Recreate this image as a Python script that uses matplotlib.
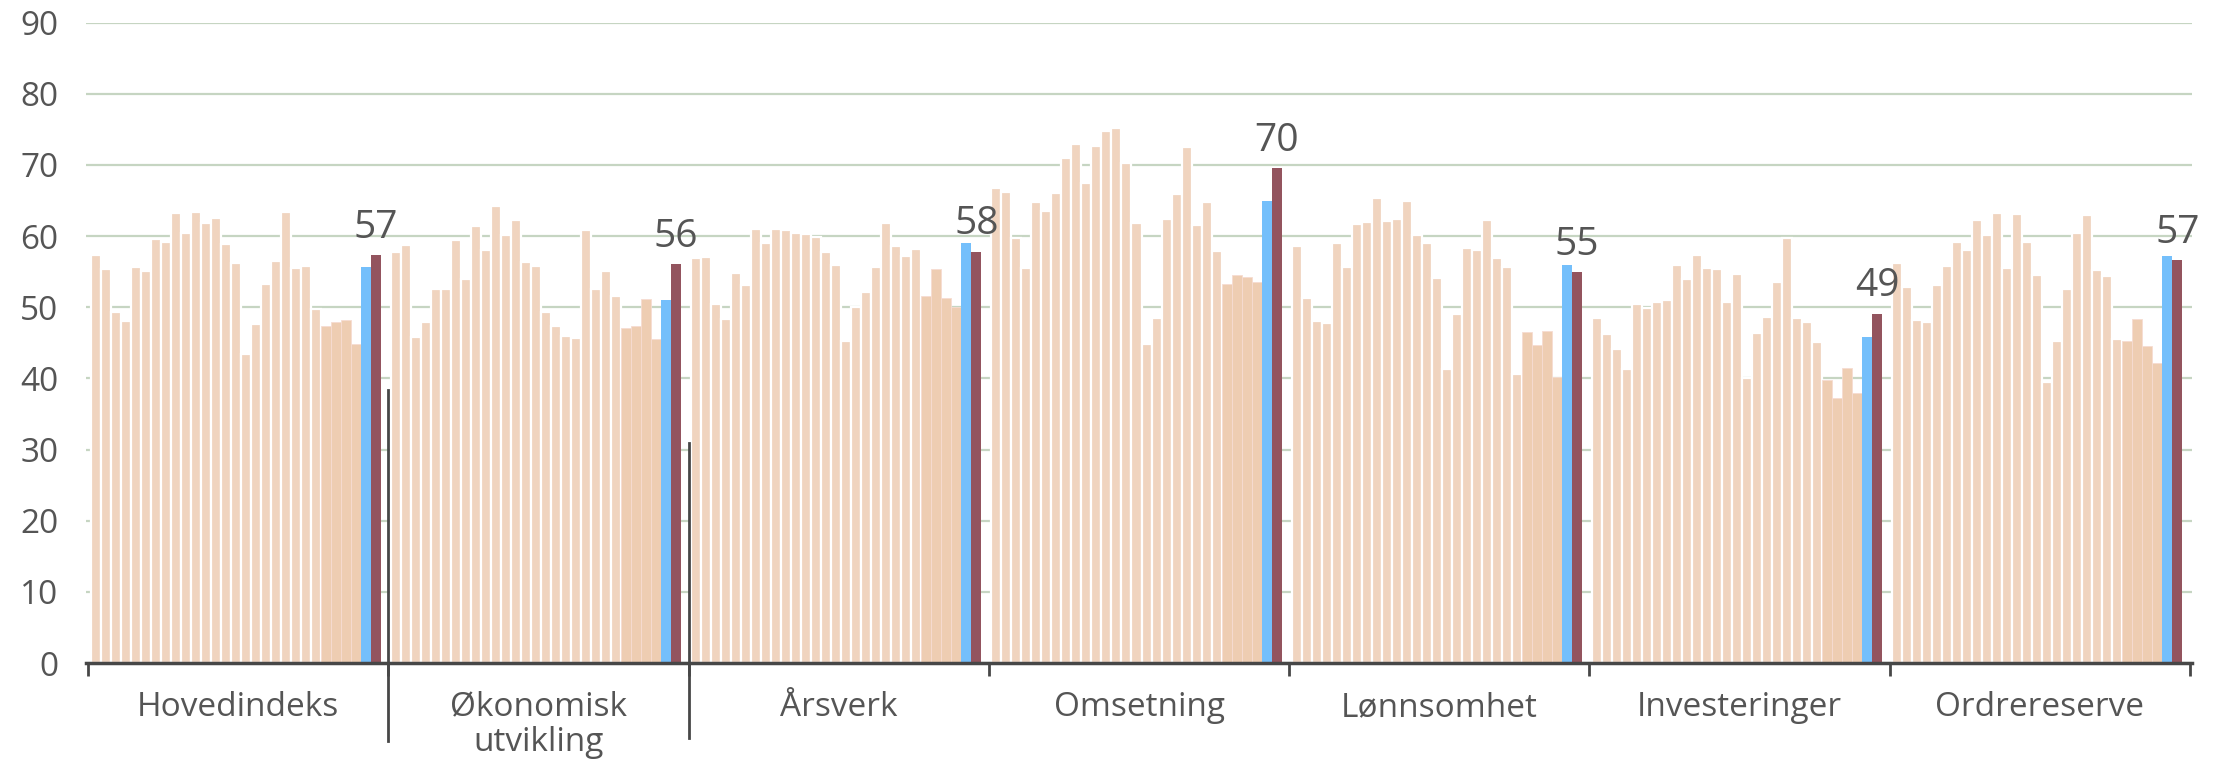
import matplotlib
matplotlib.use("Agg")
import matplotlib.pyplot as plt

# ---------------- data ----------------
categories = ["Hovedindeks", "Økonomisk\nutvikling", "Årsverk", "Omsetning",
              "Lønnsomhet", "Investeringer", "Ordrereserve"]

hist_hovedindeks = [57.4, 55.4, 49.4, 48.1, 55.7, 55.1, 59.6, 59.2, 63.2, 60.4, 63.4, 61.8, 62.6, 58.9,
                    56.2, 43.4, 47.7, 53.3, 56.5, 63.4, 55.5, 55.8, 49.8]
hist_okonomisk = [57.7, 58.8, 45.8, 47.9, 52.6, 52.5, 59.5, 54.0, 61.4, 58.0, 64.3, 60.1, 62.3, 56.4,
                  55.8, 49.3, 47.4, 45.9, 45.7, 60.9, 52.5, 55.1, 51.6]
hist_arsverk = [56.9, 57.1, 50.4, 48.3, 54.8, 53.1, 61.0, 59.1, 61.0, 60.8, 60.4, 60.3, 59.9, 57.7,
                56.0, 45.2, 50.0, 52.1, 55.6, 61.8, 58.6, 57.2, 58.2]
hist_omsetning = [66.8, 66.2, 59.7, 55.5, 64.8, 63.6, 66.0, 71.0, 73.0, 67.5, 72.7, 74.8, 75.2, 70.3,
                  61.9, 44.8, 48.5, 62.4, 65.9, 72.5, 61.5, 64.8, 57.9]
hist_lonnsomhet = [58.6, 51.3, 48.1, 47.8, 59.0, 55.6, 61.7, 62.0, 65.4, 62.1, 62.4, 64.9, 60.1, 59.1,
                   54.1, 41.3, 49.0, 58.3, 58.0, 62.3, 56.9, 55.7, 40.6]
hist_investeringer = [48.5, 46.3, 44.1, 41.3, 50.4, 49.9, 50.7, 51.0, 55.9, 54.0, 57.4, 55.5, 55.4, 50.7,
                      54.7, 40.0, 46.4, 48.6, 53.6, 59.8, 48.5, 48.0, 45.1]
hist_ordrereserve = [56.2, 52.9, 48.2, 47.9, 53.1, 55.8, 59.2, 58.0, 62.3, 60.1, 63.2, 55.5, 63.1, 59.2,
                     54.6, 39.5, 45.3, 52.6, 60.4, 63.0, 55.3, 54.4, 45.5]

recent_hovedindeks = [47.4, 47.9, 48.2, 44.9]
recent_okonomisk = [47.1, 47.4, 51.1, 45.5]
recent_arsverk = [51.6, 55.4, 51.3, 50.1]
recent_omsetning = [53.3, 54.5, 54.3, 53.6]
recent_lonnsomhet = [46.5, 44.7, 46.6, 40.2]
recent_investeringer = [39.8, 37.2, 41.5, 38.0]
recent_ordrereserve = [45.2, 48.4, 44.5, 42.1]

previous = [55.6, 51.0, 59.0, 64.9, 55.9, 45.8, 57.2]   # blue bars
latest = [57.3, 56.1, 57.8, 69.6, 54.9, 49.1, 56.6]     # dark red bars

history = [hist_hovedindeks, hist_okonomisk, hist_arsverk, hist_omsetning,
           hist_lonnsomhet, hist_investeringer, hist_ordrereserve]
recent = [recent_hovedindeks, recent_okonomisk, recent_arsverk, recent_omsetning,
          recent_lonnsomhet, recent_investeringer, recent_ordrereserve]

# ---------------- style ----------------
PEACH = "#F0D4BF"
PEACH2 = "#EECDB2"
BLUE = "#74BFFB"
RED = "#93545E"
GRID = "#C6D5C2"
AXC = "#474747"
TXT = "#555555"
FONT = ["Open Sans", "DejaVu Sans"]
plt.rcParams["font.family"] = FONT

W, H = 2226, 761
fig = plt.figure(figsize=(W / 100, H / 100), dpi=100)
ax = fig.add_axes([86 / W, 1 - 663 / H, (2192 - 86) / W, (663 - 22.7) / H])

SLOTS = 30
for g in range(len(categories)):
    base = g * SLOTS + 0.75
    hv = history[g]
    xs = [base + i for i in range(len(hv))]
    ax.bar(xs, hv, width=1.0, color=PEACH, edgecolor="white", linewidth=1.6, zorder=2)
    rv = recent[g]
    xr = [base + len(hv) + i for i in range(len(rv))]
    ax.bar(xr, rv, width=1.0, color=PEACH2, edgecolor="#F6DCD2", linewidth=0.6, zorder=2)
    n = len(hv) + len(rv)
    ax.bar([base + n], [previous[g]], width=1.0, color=BLUE, linewidth=0, zorder=3)
    ax.bar([base + n + 1], [latest[g]], width=1.0, color=RED, linewidth=0, zorder=3)
    ax.annotate(str(int(latest[g] + 0.5)), xy=(base + n + 1, latest[g]), xytext=(0, 6),
                textcoords="offset points", ha="center", va="bottom",
                fontsize=28, color=TXT)
    ax.annotate(categories[g], xy=(g * SLOTS + SLOTS / 2, 0), xytext=(0, -20),
                textcoords="offset points", ha="center", va="top",
                fontsize=24, color=TXT, linespacing=1.1)

ax.set_xlim(-0.2, 210.2)
ax.set_ylim(0, 90)
ax.set_yticks(range(0, 91, 10))
ax.set_yticklabels([str(v) for v in range(0, 91, 10)], fontsize=24, color=TXT)
ax.tick_params(axis="y", length=0, pad=20)
ax.set_xticks([g * SLOTS for g in range(len(categories) + 1)])
ax.set_xticklabels([])
ax.tick_params(axis="x", length=9, width=2, color=AXC, direction="out")

ax.set_axisbelow(True)
ax.yaxis.grid(True, color=GRID, linewidth=1.6, zorder=0)
for s in ["top", "right", "left"]:
    ax.spines[s].set_visible(False)
ax.spines["bottom"].set_color(AXC)
ax.spines["bottom"].set_linewidth(2.5)
ax.spines["bottom"].set_zorder(4)

# long separator lines between the first groups
ax.plot([30, 30], [38.4, -10.9], color=AXC, linewidth=2.0, clip_on=False, zorder=5)
ax.plot([60, 60], [30.9, -10.5], color=AXC, linewidth=2.0, clip_on=False, zorder=5)

fig.savefig("out.png", dpi=100, facecolor="white")
